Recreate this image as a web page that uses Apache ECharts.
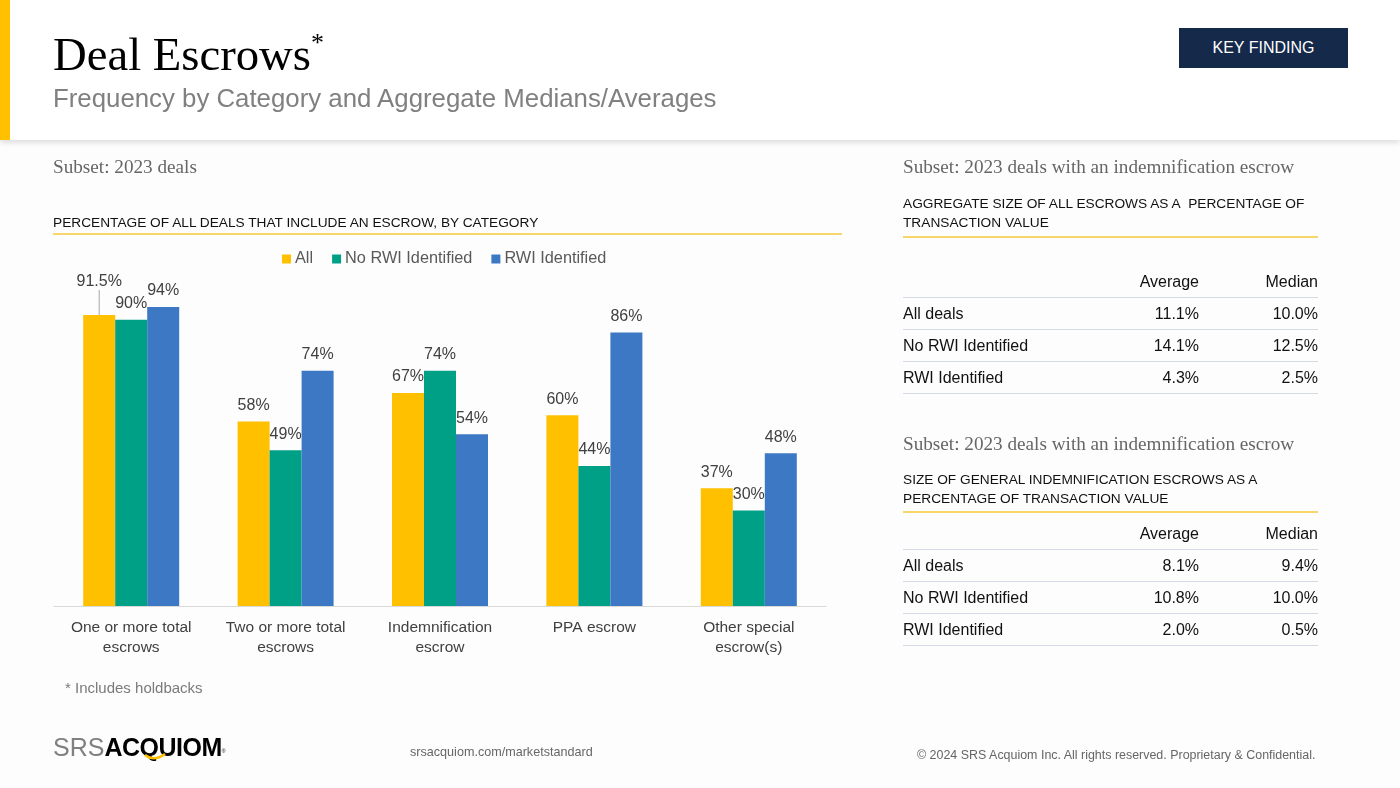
<!DOCTYPE html>
<html>
<head>
<meta charset="utf-8">
<script src="https://cdn.jsdelivr.net/npm/echarts@6/dist/echarts.min.js"></script>
<style>
  html, body { margin:0; padding:0; width:1400px; height:788px; overflow:hidden; background:#fdfdfd; font-family:"Liberation Sans", Arial, sans-serif; }
  #header { position:absolute; left:0; top:0; width:1400px; height:140px; background:#fff; box-shadow:0 3px 5px rgba(0,0,0,0.12); z-index:2; }
  #ybar { position:absolute; left:0; top:0; width:10px; height:140px; background:#FFC000; }
  .abs { position:absolute; white-space:nowrap; z-index:3; }
  #title { left:53px; top:28px; font-family:"Liberation Serif", "DejaVu Serif", serif; font-size:46.7px; line-height:52px; color:#000; }
  #supx { left:311px; top:30px; font-family:"Liberation Serif", "DejaVu Serif", serif; font-size:26px; line-height:26px; color:#000; }
  #subtitle { left:53px; top:83px; font-size:25.8px; line-height:30px; color:#808080; }
  #key { left:1179px; top:28px; width:169px; height:40px; background:#15294B; color:#fff; font-size:16px; line-height:40px; text-align:center; letter-spacing:0px; }
  .subset { font-family:"Liberation Serif", "DejaVu Serif", serif; font-size:19.2px; color:#666; line-height:22px; }
  .ctitle { font-size:13.7px; color:#111; line-height:19px; }
  .uline { position:absolute; height:1.5px; background:#F7D66B; z-index:3; }
  .tbl { position:absolute; left:903px; width:415px; z-index:3; font-size:16px; color:#111; }
  .row { height:31px; border-bottom:1.5px solid #D3DAE5; display:flex; align-items:center; }
  .c1 { width:176px; }
  .c2 { width:120px; text-align:right; }
  .c3 { width:119px; text-align:right; }
  #note { left:65px; top:678px; font-size:15px; color:#7a7a7a; line-height:20px; }
  #url { left:410px; top:744px; font-size:12.6px; color:#666; line-height:16px; }
  #copy { left:917px; top:747px; font-size:12.45px; color:#666; line-height:16px; }
  #logo { left:53px; top:733px; font-size:25px; line-height:28px; }
  #logo .srs { color:#808080; }
  #logo .acq { color:#000; font-weight:bold; letter-spacing:-0.5px; }
  #logo .reg { font-size:5px; vertical-align:top; color:#000; position:relative; top:4px; }
  #chart { position:absolute; left:0; top:0; width:1400px; height:788px; z-index:1; }
</style>
</head>
<body>
<div id="header"><div id="ybar"></div></div>
<div id="title" class="abs">Deal Escrows</div>
<div id="supx" class="abs">*</div>
<div id="subtitle" class="abs">Frequency by Category and Aggregate Medians/Averages</div>
<div id="key" class="abs">KEY FINDING</div>

<div class="abs subset" style="left:53px; top:156px;">Subset: 2023 deals</div>
<div class="abs ctitle" style="left:53px; top:213px;">PERCENTAGE OF ALL DEALS THAT INCLUDE AN ESCROW, BY CATEGORY</div>
<div class="uline" style="left:53px; top:233px; width:789px;"></div>

<div class="abs subset" style="left:903px; top:156px;">Subset: 2023 deals with an indemnification escrow</div>
<div class="abs ctitle" style="left:903px; top:194px;">AGGREGATE SIZE OF ALL ESCROWS AS A&nbsp; PERCENTAGE OF<br>TRANSACTION VALUE</div>
<div class="uline" style="left:903px; top:236px; width:415px;"></div>
<div id="tbl1" class="tbl" style="top:266px;"></div>

<div class="abs subset" style="left:903px; top:433px;">Subset: 2023 deals with an indemnification escrow</div>
<div class="abs ctitle" style="left:903px; top:470px;">SIZE OF GENERAL INDEMNIFICATION ESCROWS AS A<br>PERCENTAGE OF TRANSACTION VALUE</div>
<div class="uline" style="left:903px; top:511px; width:415px;"></div>
<div id="tbl2" class="tbl" style="top:518px;"></div>

<div id="note" class="abs">* Includes holdbacks</div>
<div id="logo" class="abs"><span class="srs">SRS</span><span class="acq">ACQUIOM</span><span class="reg">®</span></div>
<svg class="abs" style="left:143px; top:752px;" width="24" height="10"><path d="M2 3 Q11 10 22 2" stroke="#FFC000" stroke-width="2.5" fill="none"/></svg>
<div id="url" class="abs">srsacquiom.com/marketstandard</div>
<div id="copy" class="abs">© 2024 SRS Acquiom Inc. All rights reserved. Proprietary &amp; Confidential.</div>

<div id="chart"></div>
<script>
// ---- Data ----
const categories = ['One or more total\nescrows', 'Two or more total\nescrows', 'Indemnification\nescrow', 'PPA escrow', 'Other special\nescrow(s)'];
const seriesNames = ['All', 'No RWI Identified', 'RWI Identified'];
const allDeals = [91.5, 58, 67, 60, 37];
const noRwi = [90, 49, 74, 44, 30];
const rwi = [94, 74, 54, 86, 48];

const tableCols = ['Average', 'Median'];
const tableRows = ['All deals', 'No RWI Identified', 'RWI Identified'];
const aggAverage = ['11.1%', '14.1%', '4.3%'];
const aggMedian = ['10.0%', '12.5%', '2.5%'];
const genAverage = ['8.1%', '10.8%', '2.0%'];
const genMedian = ['9.4%', '10.0%', '0.5%'];

// ---- Tables ----
function buildTable(el, avg, med) {
  let h = '<div class="row"><div class="c1"></div><div class="c2">' + tableCols[0] + '</div><div class="c3">' + tableCols[1] + '</div></div>';
  tableRows.forEach((r, i) => {
    h += '<div class="row"><div class="c1">' + r + '</div><div class="c2">' + avg[i] + '</div><div class="c3">' + med[i] + '</div></div>';
  });
  document.getElementById(el).innerHTML = h;
}
buildTable('tbl1', aggAverage, aggMedian);
buildTable('tbl2', genAverage, genMedian);

// ---- Chart ----
const colors = ['#FFC000', '#00A087', '#3C78C3'];
const chart = echarts.init(document.getElementById('chart'), null, { renderer: 'canvas' });
const labelBase = {
  show: true, position: 'top', distance: 8, fontSize: 16, color: '#404040',
  fontFamily: 'Liberation Sans, Arial, sans-serif',
  formatter: p => p.value + '%'
};
function mkSeries(name, data, idx) {
  const s = {
    name: name, type: 'bar', data: data.slice(), barWidth: 32, barGap: '0%',
    itemStyle: { color: colors[idx] },
    label: labelBase,
    emphasis: { disabled: true }
  };
  if (idx === 0) {
    s.data[0] = { value: data[0], labelLine: { show: true, lineStyle: { color: '#A6A6A6', width: 1 } } };
    s.labelLayout = function (p) { return p.dataIndex === 0 ? { dy: -17 } : {}; };
    s.labelLine = { show: false, lineStyle: { color: '#A6A6A6', width: 1 } };
  }
  return s;
}
chart.setOption({
  animation: false,
  textStyle: { fontFamily: 'Liberation Sans, Arial, sans-serif' },
  legend: {
    data: seriesNames, left: 277, top: 246, itemWidth: 9, itemHeight: 9, itemGap: 19,
    icon: 'rect',
    textStyle: { fontSize: 16.3, color: '#595959', padding: [0, 0, 0, -1] }
  },
  grid: { left: 54, right: 574, top: 288, bottom: 182, containLabel: false },
  xAxis: {
    type: 'category', data: categories,
    axisLine: { lineStyle: { color: '#D9D9D9', width: 1 } },
    axisTick: { show: false },
    axisLabel: { fontSize: 15.5, color: '#404040', lineHeight: 20, margin: 12, interval: 0 }
  },
  yAxis: { type: 'value', min: 0, max: 100, show: false, splitLine: { show: false } },
  series: [mkSeries(seriesNames[0], allDeals, 0), mkSeries(seriesNames[1], noRwi, 1), mkSeries(seriesNames[2], rwi, 2)]
});
</script>
</body>
</html>
